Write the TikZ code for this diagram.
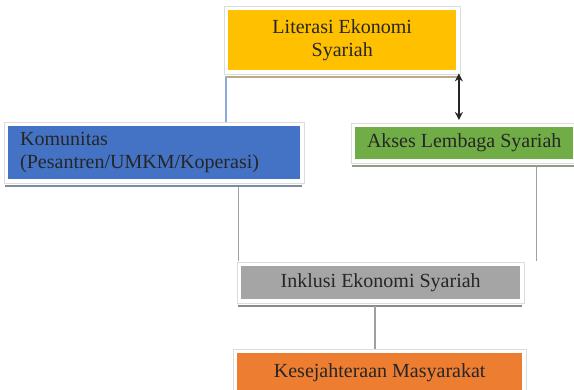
\documentclass[tikz,border=0pt]{standalone}
\usepackage{fontspec}
\setmainfont{Liberation Serif}
\usetikzlibrary{calc,arrows.meta}
\definecolor{cYellow}{HTML}{FFC000}
\definecolor{cBlue}{HTML}{4472C4}
\definecolor{cGreen}{HTML}{70AD47}
\definecolor{cGray}{HTML}{A5A5A5}
\definecolor{cOrange}{HTML}{ED7D31}
\definecolor{frameC}{HTML}{DCDCDC}
\definecolor{shYellow}{HTML}{B8AC88}
\definecolor{shBlue}{HTML}{7F8A9E}
\definecolor{shGreen}{HTML}{8E9C86}
\definecolor{shGray}{HTML}{8A8A8A}
\definecolor{lineBlue}{HTML}{8EAADB}
\definecolor{lineGray}{HTML}{A0A0A0}
\tikzset{
  boxnode/.style={draw=none, anchor=north west, inner sep=0pt, text=black!85,
    font=\fontsize{20}{23}\selectfont},
  frameline/.style={draw=frameC, line width=1pt},
  connline/.style={draw=lineGray, line width=1.6pt},
}
\begin{document}
\begin{tikzpicture}[x=1pt,y=-1pt]
\useasboundingbox[fill=white] (0,0) rectangle (574,389);
% boxes
\node[boxnode, fill=cYellow, minimum width=228pt, minimum height=60pt, align=center] (lit) at (228,10) {Literasi Ekonomi\\Syariah};
\node[boxnode, fill=cBlue, minimum width=292pt, minimum height=53pt, text width=268pt, inner xsep=12pt, align=left] (kom) at (8,126) {Komunitas\\(Pesantren/UMKM/Koperasi)};
\node[boxnode, fill=cGreen, minimum width=218pt, minimum height=32pt] (aks) at (355,127) {Akses Lembaga Syariah};
\node[boxnode, fill=cGray, minimum width=279pt, minimum height=33pt] (ink) at (241,266) {Inklusi Ekonomi Syariah};
\node[boxnode, fill=cOrange, minimum width=285pt, minimum height=40pt] (kes) at (237,353) {Kesejahteraan Masyarakat};
% frames and bottom shadow lines
\foreach \n in {lit, kom, aks, ink, kes}{
  \draw[frameline] ([xshift=-4pt,yshift=-4pt]\n.south west) rectangle ([xshift=4pt,yshift=4pt]\n.north east);
}
\foreach \n/\s in {lit/shYellow, kom/shBlue, aks/shGreen, ink/shGray}{
  \draw[draw=\s, line width=2pt] ([xshift=-3pt,yshift=-6.5pt]\n.south west) -- ([xshift=2pt,yshift=-6.5pt]\n.south east);
}
% connectors
\coordinate (c1) at ([xshift=-2pt,yshift=-7pt]lit.south west);
\draw[draw=lineBlue, line width=1.6pt, shorten >=4pt] (c1) -- (c1 |- kom.north);
\coordinate (c2) at ([xshift=2.5pt,yshift=-3pt]lit.south east);
\draw[black!85, line width=1.3pt, {Stealth[length=8pt,width=8pt]}-{Stealth[length=8pt,width=8pt]}, shorten >=7pt] (c2) -- (c2 |- aks.north);
\coordinate (c3) at ([xshift=-37pt,yshift=-8pt]aks.south east);
\draw[connline, shorten >=5pt] (c3) -- (c3 |- ink.north);
\coordinate (c4) at ([xshift=-62pt,yshift=-7.5pt]kom.south east);
\draw[connline, shorten >=5pt] (c4) -- (c4 |- ink.north);
\coordinate (c5) at ([xshift=-5.5pt,yshift=-7pt]ink.south);
\draw[connline, shorten >=4pt] (c5) -- (c5 |- kes.north);
\end{tikzpicture}
\end{document}
